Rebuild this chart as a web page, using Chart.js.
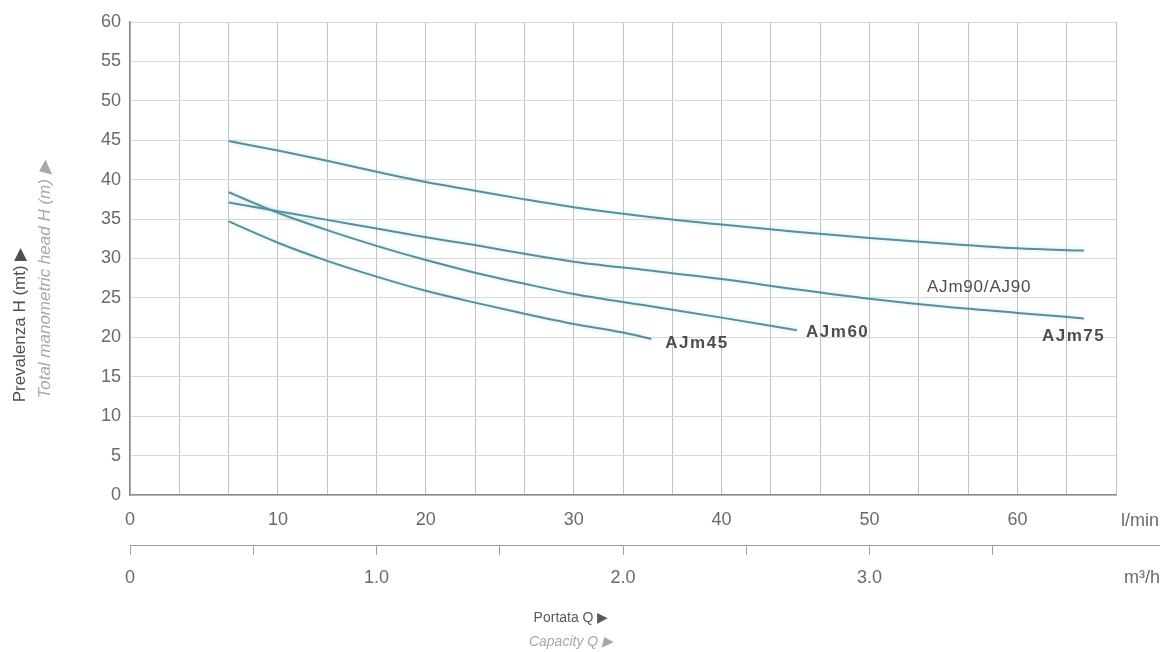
<!DOCTYPE html>
<html>
<head>
<meta charset="utf-8">
<script src="https://cdn.jsdelivr.net/npm/chart.js@4.4.1/dist/chart.umd.min.js"></script>
<style>
  html, body { margin: 0; padding: 0; background: #ffffff; }
  #wrap { width: 1174px; height: 652px; position: relative; }
</style>
</head>
<body>
<div id="wrap"><canvas id="c" width="1174" height="652"></canvas></div>
<script>
// ---- Data (flow in l/min, head in m) ----
const seriesNames = ['AJm90/AJ90', 'AJm75', 'AJm60', 'AJm45'];

const ajm90Flow = [6.67, 10, 13.33, 16.67, 20, 23.33, 26.67, 30, 35, 40, 45, 50, 55, 60, 64.5];
const ajm90Head = [44.9, 43.7, 42.4, 41.0, 39.7, 38.6, 37.5, 36.5, 35.3, 34.3, 33.4, 32.6, 31.9, 31.3, 31.0];

const ajm75Flow = [6.67, 10, 13.33, 16.67, 20, 23.33, 26.67, 30, 35, 40, 45, 50, 55, 60, 64.5];
const ajm75Head = [37.1, 36.0, 34.9, 33.8, 32.7, 31.7, 30.6, 29.6, 28.5, 27.4, 26.1, 24.9, 23.9, 23.1, 22.4];

const ajm60Flow = [6.67, 10, 13.33, 16.67, 20, 23.33, 26.67, 30, 35, 40, 45.1];
const ajm60Head = [38.4, 35.8, 33.6, 31.6, 29.8, 28.2, 26.8, 25.5, 24.0, 22.5, 20.9];

const ajm45Flow = [6.67, 10, 13.33, 16.67, 20, 23.33, 26.67, 30, 33.33, 35.25];
const ajm45Head = [34.7, 32.0, 29.7, 27.7, 25.9, 24.4, 23.0, 21.7, 20.6, 19.8];

// ---- Axis ticks ----
const yTicks = [0, 5, 10, 15, 20, 25, 30, 35, 40, 45, 50, 55, 60];
const lminLabels = [0, 10, 20, 30, 40, 50, 60];
const lminGridStep = 10 / 3;          // 0.2 m3/h
const m3hTicks = [0, 0.5, 1.0, 1.5, 2.0, 2.5, 3.0, 3.5];
const m3hLabels = ['0', '1.0', '2.0', '3.0'];
const m3hMax = 4.0;
const lminMax = m3hMax * 1000 / 60;

const toPoints = (xs, ys) => xs.map((x, i) => ({ x: x, y: ys[i] }));

const lineColor = '#5b8e9b';
const FONT = '"Liberation Sans", Arial, sans-serif';

const mkDs = (label, xs, ys) => ({
  label: label,
  data: toPoints(xs, ys),
  borderColor: lineColor,
  borderWidth: 2,
  pointRadius: 0,
  fill: false,
  tension: 0.4,
  cubicInterpolationMode: 'monotone'
});

const glowPlugin = {
  id: 'glow',
  beforeDatasetsDraw(chart) {
    const ctx = chart.ctx;
    ctx.save();
    ctx.shadowColor = 'rgba(130, 215, 235, 0.55)';
    ctx.shadowBlur = 4;
  },
  afterDatasetsDraw(chart) {
    chart.ctx.restore();
  }
};

const textPlugin = {
  id: 'texts',
  afterDraw(chart) {
    const ctx = chart.ctx;
    const xs = chart.scales.x, ys = chart.scales.y, x2 = chart.scales.x2;
    ctx.save();

    // extend secondary axis line
    ctx.strokeStyle = '#9a9a9a';
    ctx.lineWidth = 1;
    ctx.beginPath();
    ctx.moveTo(x2.right, x2.top + 0.5);
    ctx.lineTo(1160, x2.top + 0.5);
    ctx.stroke();

    // unit labels
    ctx.fillStyle = '#6a6a6a';
    ctx.font = '18px ' + FONT;
    ctx.textBaseline = 'middle';
    ctx.textAlign = 'left';
    ctx.fillText('l/min', 1121, 521);
    ctx.fillText('m³/h', 1124, 578);

    // x titles
    ctx.textAlign = 'center';
    ctx.font = '14px ' + FONT;
    ctx.fillStyle = '#5a5a5a';
    ctx.fillText('Portata Q ▶', 571, 618);
    ctx.font = 'italic 14px ' + FONT;
    ctx.fillStyle = '#a8a8a8';
    ctx.fillText('Capacity Q ▶', 571, 642);

    // y titles (rotated)
    ctx.save();
    ctx.translate(20, 325);
    ctx.rotate(-Math.PI / 2);
    ctx.font = '17px ' + FONT;
    ctx.fillStyle = '#505050';
    ctx.fillText('Prevalenza H (mt) ▶', 0, 0);
    ctx.restore();
    ctx.save();
    ctx.translate(45, 280);
    ctx.rotate(-Math.PI / 2);
    ctx.font = 'italic 17px ' + FONT;
    ctx.fillStyle = '#a8a8a8';
    ctx.fillText('Total manometric head H (m) ▶', 0, 0);
    ctx.restore();

    // curve labels (relative to the curve end points)
    ctx.fillStyle = '#4e4e4e';
    ctx.textAlign = 'left';
    const endPx = (fx, hy) => [xs.getPixelForValue(fx[fx.length - 1]), ys.getPixelForValue(hy[hy.length - 1])];
    ctx.font = 'bold 17px ' + FONT;
    try { ctx.letterSpacing = '1.5px'; } catch (e) {}
    let p = endPx(ajm45Flow, ajm45Head);
    ctx.fillText(seriesNames[3], p[0] + 14, p[1] + 4);
    p = endPx(ajm60Flow, ajm60Head);
    ctx.fillText(seriesNames[2], p[0] + 9, p[1] + 2);
    p = endPx(ajm75Flow, ajm75Head);
    ctx.fillText(seriesNames[1], p[0] - 42, p[1] + 18);
    ctx.font = '17px ' + FONT;
    try { ctx.letterSpacing = '0.8px'; } catch (e) {}
    p = endPx(ajm90Flow, ajm90Head);
    ctx.fillText(seriesNames[0], p[0] - 157, p[1] + 37);
    ctx.restore();
  }
};

new Chart(document.getElementById('c'), {
  type: 'line',
  data: {
    datasets: [
      mkDs(seriesNames[0], ajm90Flow, ajm90Head),
      mkDs(seriesNames[1], ajm75Flow, ajm75Head),
      mkDs(seriesNames[2], ajm60Flow, ajm60Head),
      mkDs(seriesNames[3], ajm45Flow, ajm45Head)
    ]
  },
  options: {
    responsive: false,
    animation: false,
    devicePixelRatio: 1,
    layout: { padding: { left: 0, right: 58, top: 22, bottom: 47 } },
    plugins: { legend: { display: false }, tooltip: { enabled: false } },
    scales: {
      x: {
        type: 'linear',
        position: 'bottom',
        min: 0,
        max: lminMax,
        weight: 0,
        afterBuildTicks: s => {
          const n = Math.round(lminMax / lminGridStep);
          const t = [];
          for (let k = 0; k <= n; k++) t.push({ value: k * lminGridStep });
          s.ticks = t;
        },
        ticks: {
          autoSkip: false,
          maxRotation: 0,
          padding: 14,
          color: '#6a6a6a',
          font: { family: FONT, size: 18 },
          callback: (v) => {
            const r = Math.round(v);
            return (Math.abs(v - r) < 1e-6 && lminLabels.includes(r)) ? String(r) : '';
          }
        },
        grid: { color: '#c2c2c2', lineWidth: 1, drawTicks: false },
        border: { color: '#8c8c8c', width: 1.5 },
        afterFit: s => { s.height = 50; }
      },
      x2: {
        type: 'linear',
        position: 'bottom',
        min: 0,
        max: m3hMax,
        weight: 1,
        afterBuildTicks: s => { s.ticks = m3hTicks.map(v => ({ value: v })); },
        ticks: {
          autoSkip: false,
          maxRotation: 0,
          padding: 12,
          color: '#6a6a6a',
          font: { family: FONT, size: 18 },
          callback: (v) => {
            const lbl = v === 0 ? '0' : v.toFixed(1);
            return m3hLabels.includes(lbl) ? lbl : '';
          }
        },
        grid: { drawOnChartArea: false, drawTicks: true, tickLength: 10, color: '#a0a0a0' },
        border: { color: '#9a9a9a', width: 1 },
        afterFit: s => { s.height = 60; }
      },
      y: {
        type: 'linear',
        min: 0,
        max: 60,
        afterBuildTicks: s => { s.ticks = yTicks.map(v => ({ value: v })); },
        ticks: {
          padding: 9,
          color: '#6a6a6a',
          font: { family: FONT, size: 18 }
        },
        grid: { color: '#d8d8d8', lineWidth: 1, drawTicks: false },
        border: { color: '#8c8c8c', width: 1.5 },
        afterFit: s => { s.width = 130; }
      }
    }
  },
  plugins: [glowPlugin, textPlugin]
});
</script>
</body>
</html>
